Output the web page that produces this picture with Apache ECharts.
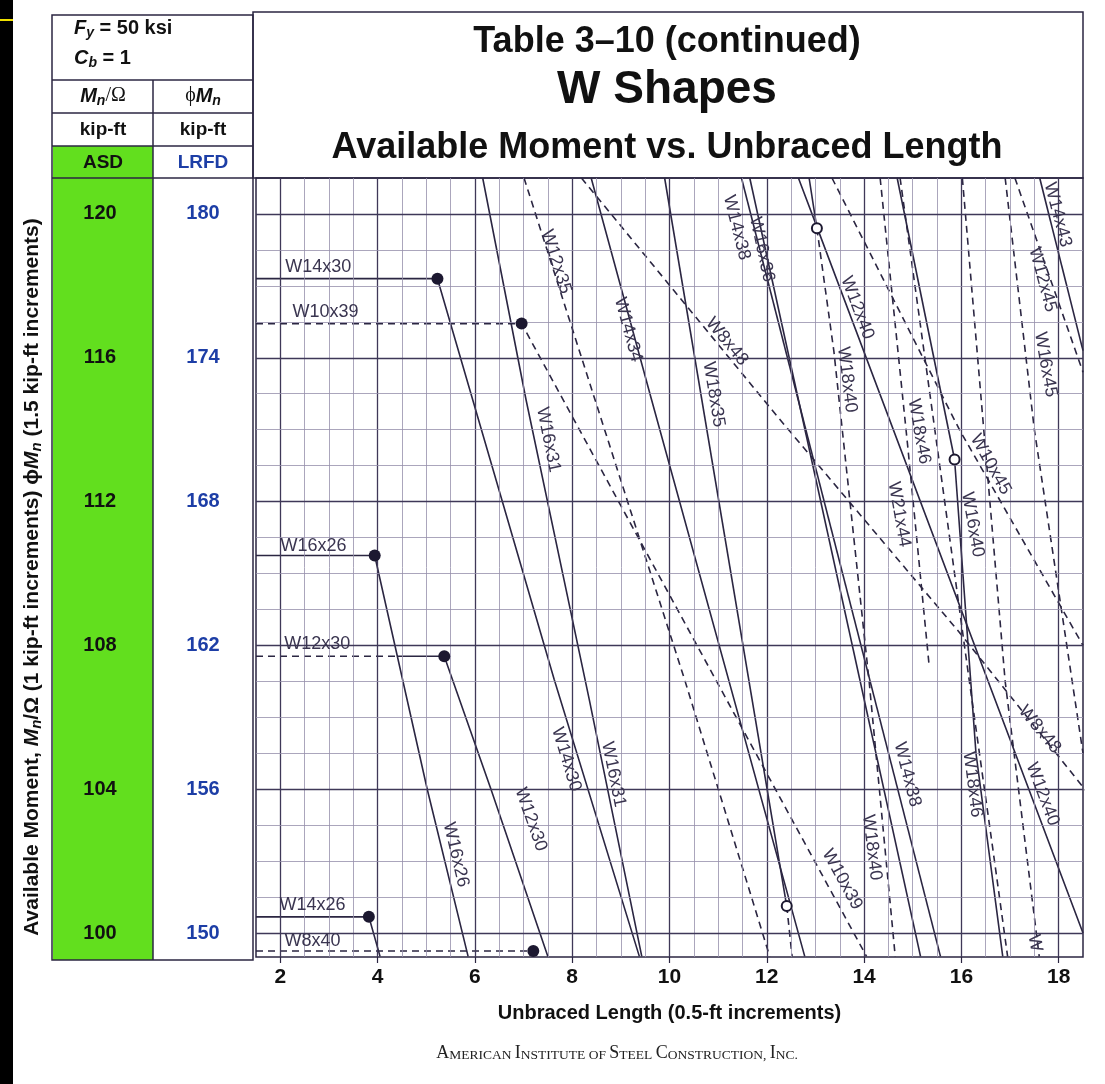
<!DOCTYPE html>
<html>
<head>
<meta charset="utf-8">
<script src="https://cdn.jsdelivr.net/npm/echarts@6/dist/echarts.min.js"></script>
<style>
html, body { margin: 0; padding: 0; background: #fff; }
#chart { width: 1105px; height: 1084px; }
</style>
</head>
<body>
<div id="chart"></div>
<script>
// axis ticks
const xTicks = [2, 4, 6, 8, 10, 12, 14, 16, 18];
const asdTicks = [100, 104, 108, 112, 116, 120];

// curves: [unbraced length (ft), Mn/Ω (kip-ft)]
const w14x30 = [[1.5, 118.2], [5.23, 118.2], [7.63, 107.05], [9.38, 99.35]];
const w10x39 = [[1.5, 116.95], [6.96, 116.95], [14.05, 99.35]];
const w16x26 = [[1.5, 110.5], [3.94, 110.5], [5.02, 104.0], [5.86, 99.35]];
const w12x30Left = [[1.5, 107.7], [4.41, 107.7]];
const w12x30 = [[4.41, 107.7], [5.37, 107.7], [6.33, 104.0], [7.5, 99.35]];
const w14x26 = [[1.5, 100.45], [3.82, 100.45], [4.05, 99.35]];
const w8x40 = [[1.5, 99.5], [7.2, 99.5]];
const w16x31 = [[6.16, 121], [7.05, 114.84], [8.35, 106.5], [9.43, 99.35]];
const w12x35 = [[7.01, 121], [10.31, 107.05], [12.06, 99.35]];
const w14x34 = [[8.39, 121], [9.63, 114.84], [12.78, 99.35]];
const w18x35 = [[9.9, 121], [12.41, 100.75]];
const w18x35Elastic = [[12.41, 100.75], [12.52, 99.35]];
const w8x48 = [[8.19, 121], [12.24, 114.33], [15.96, 108.36], [18.56, 103.96]];
const w14x38 = [[11.48, 121], [15.57, 99.35]];
const w16x36 = [[11.65, 121], [15.16, 99.35]];
const w12x40 = [[12.65, 121], [13.03, 119.64], [18.5, 100.0]];
const w18x40 = [[12.87, 121], [13.03, 119.6]];
const w18x40Elastic = [[13.03, 119.6], [13.38, 116.17], [14.1, 107.05], [14.64, 99.35]];
const w16x40 = [[14.68, 121], [15.86, 113.17]];
const w16x40Elastic = [[15.86, 113.17], [16.3, 105.0], [16.85, 99.35]];
const w14x43 = [[17.61, 121], [18.5, 116.2]];
const w12x45 = [[17.1, 121], [18.5, 115.6]];
const w16x45 = [[16.9, 121], [17.5, 114.0], [18.5, 105.0]];
const w10x45 = [[13.34, 121], [15.96, 114.0], [18.5, 108.0]];
const w18x46 = [[14.74, 121], [15.46, 113.94], [16.16, 107.04], [16.64, 102.4], [16.95, 99.35]];
const w21x44 = [[14.33, 121], [14.9, 113.5], [15.34, 107.4]];
const wRight = [[16.02, 121], [16.9, 107.0], [17.6, 99.35]];

// solid dots = Lp, open dots = Lr
const lpPoints = [[5.23, 118.2], [6.96, 116.95], [3.94, 110.5], [5.37, 107.7], [3.82, 100.45], [7.2, 99.5]];
const lrPoints = [[13.03, 119.6], [15.86, 113.17], [12.41, 100.75]];

// shape labels: text, x, y (data), angle in degrees (clockwise)
const shapeLabels = [
  ['W14x30', 2.78, 118.51, 0], ['W10x39', 2.93, 117.28, 0], ['W16x26', 2.68, 110.75, 0],
  ['W12x30', 2.76, 108.03, 0], ['W14x26', 2.66, 100.79, 0], ['W8x40', 2.66, 99.79, 0],
  ['W12x35', 7.67, 118.67, 72.5], ['W14x34', 9.15, 116.78, 74.7], ['W8x48', 11.18, 116.45, 50.6],
  ['W18x35', 10.91, 114.98, 80.6], ['W14x38', 11.38, 119.62, 75.7], ['W16x36', 11.9, 119.01, 77.8],
  ['W12x40', 13.86, 117.39, 69.3], ['W18x40', 13.65, 115.39, 83], ['W16x31', 7.51, 113.72, 78.5],
  ['W18x46', 15.13, 113.95, 80], ['W21x44', 14.72, 111.64, 80], ['W10x45', 16.6, 113.03, 61],
  ['W16x40', 16.23, 111.36, 80], ['W14x43', 17.98, 119.98, 75.4], ['W12x45', 17.67, 118.17, 75],
  ['W16x45', 17.73, 115.81, 80], ['W8x48', 17.61, 105.66, 50.6], ['W12x40', 17.67, 103.86, 69.3],
  ['W14x38', 14.89, 104.41, 75.7], ['W18x40', 14.16, 102.38, 83], ['W18x46', 16.23, 104.13, 83],
  ['W10x39', 13.55, 101.49, 61.5], ['W16x31', 8.85, 104.41, 78.5], ['W14x30', 7.88, 104.83, 73.3],
  ['W12x30', 7.15, 103.16, 70.7], ['W16x26', 5.61, 102.18, 76.8], ['W', 17.51, 99.72, 80]
];

const INK = '#2b2642';
const LABEL = '#3a3550';
const GREEN = '#62df1e';
const BLUE = '#1d3ea6';
const SANS = '"Liberation Sans", Arial, sans-serif';

const chart = echarts.init(document.getElementById('chart'));

function curve(data, dashed) {
  return {
    type: 'line', data: data, symbol: 'none', silent: true, animation: false, z: 4,
    lineStyle: { color: INK, width: 1.6, type: dashed ? [7, 5] : 'solid' }
  };
}

// grid lines
const gridMarks = [];
for (let v = 2; v <= 18; v += 0.5) {
  const major = v % 2 === 0;
  gridMarks.push({ xAxis: v, lineStyle: { color: major ? '#3f3858' : '#958fab', width: major ? 1.3 : 0.8, type: 'solid' } });
}
for (let v = 100; v <= 120; v++) {
  const major = v % 4 === 0;
  gridMarks.push({ yAxis: v, lineStyle: { color: major ? '#3f3858' : '#958fab', width: major ? 1.3 : 0.8, type: 'solid' } });
}

const option = {
  backgroundColor: '#fff',
  animation: false,
  grid: { left: 256, top: 178, right: 22, bottom: 127, show: true, borderColor: INK, borderWidth: 1.5, backgroundColor: 'transparent' },
  xAxis: {
    type: 'value', min: 1.5, max: 18.5,
    axisLine: { show: false },
    splitLine: { show: false },
    axisTick: { show: true, customValues: xTicks, length: 6, lineStyle: { color: INK, width: 1.2 } },
    axisLabel: { customValues: xTicks, margin: 10, color: '#111', fontSize: 21, fontWeight: 'bold', fontFamily: SANS },
    name: 'Unbraced Length (0.5-ft increments)', nameLocation: 'middle', nameGap: 46,
    nameTextStyle: { color: '#111', fontSize: 20, fontWeight: 'bold', fontFamily: SANS }
  },
  yAxis: {
    type: 'value', min: 99.333, max: 121,
    axisLine: { show: false }, splitLine: { show: false }, axisTick: { show: false },
    axisLabel: {
      customValues: asdTicks, margin: 3,
      formatter: v => '{a|' + v + '}{b|' + Math.round(v * 1.5) + '}',
      rich: {
        a: { width: 106, align: 'center', fontSize: 20, fontWeight: 'bold', color: '#111', fontFamily: SANS },
        b: { width: 100, align: 'center', fontSize: 20, fontWeight: 'bold', color: BLUE, fontFamily: SANS }
      }
    }
  },
  series: [
    { type: 'line', data: [], silent: true, markLine: { symbol: 'none', silent: true, animation: false, label: { show: false }, data: gridMarks }, z: 1 },
    curve(w14x30, false), curve(w10x39, true), curve(w16x26, false), curve(w12x30Left, true),
    curve(w12x30, false), curve(w14x26, false), curve(w8x40, true), curve(w16x31, false),
    curve(w12x35, true), curve(w14x34, false), curve(w18x35, false), curve(w18x35Elastic, true),
    curve(w8x48, true), curve(w14x38, false), curve(w16x36, false), curve(w12x40, false),
    curve(w18x40, false), curve(w18x40Elastic, true), curve(w16x40, false), curve(w16x40Elastic, false),
    curve(w14x43, false), curve(w12x45, true), curve(w16x45, true), curve(w10x45, true),
    curve(w18x46, true), curve(w21x44, true), curve(wRight, true),
    { type: 'scatter', data: lpPoints, symbolSize: 12, itemStyle: { color: '#1c1830', opacity: 1 }, z: 6, silent: true },
    { type: 'scatter', data: lrPoints, symbolSize: 10, itemStyle: { color: '#fff', borderColor: '#1c1830', borderWidth: 2, opacity: 1 }, z: 6, silent: true }
  ]
};
chart.setOption(option);

function smallCaps(str) {
  return str.split(' ').map(w => w === 'OF' ? '{s|OF}' : '{c|' + w[0] + '}{s|' + w.slice(1) + '}').join('{s| }');
}

const elements = [
  { type: 'rect', shape: { x: 0, y: 0, width: 13, height: 1084 }, style: { fill: '#000' } },
  { type: 'rect', shape: { x: 0, y: 19, width: 13, height: 2 }, style: { fill: '#f0e000' } },
  // table header
  { type: 'rect', shape: { x: 53, y: 146, width: 100, height: 814 }, style: { fill: GREEN } },
  { type: 'rect', shape: { x: 52, y: 15, width: 201, height: 945 }, style: { fill: 'none', stroke: INK, lineWidth: 1.5 } },
  { type: 'line', shape: { x1: 52, y1: 80, x2: 253, y2: 80 }, style: { stroke: INK, lineWidth: 1.5 } },
  { type: 'line', shape: { x1: 52, y1: 113, x2: 253, y2: 113 }, style: { stroke: INK, lineWidth: 1.5 } },
  { type: 'line', shape: { x1: 52, y1: 146, x2: 253, y2: 146 }, style: { stroke: INK, lineWidth: 1.5 } },
  { type: 'line', shape: { x1: 52, y1: 178, x2: 253, y2: 178 }, style: { stroke: INK, lineWidth: 1.5 } },
  { type: 'line', shape: { x1: 153, y1: 80, x2: 153, y2: 960 }, style: { stroke: INK, lineWidth: 1.5 } },
  { type: 'rect', shape: { x: 253, y: 12, width: 830, height: 166 }, style: { fill: 'none', stroke: INK, lineWidth: 1.5 } },
  {
    type: 'text', x: 74, y: 28, style: {
      text: '{i|F}{sub|y}{r| = 50 ksi}', textVerticalAlign: 'middle',
      rich: { i: { font: 'italic bold 20px ' + SANS, fill: '#111' }, sub: { font: 'italic bold 14px ' + SANS, fill: '#111', padding: [10, 0, 0, 0] }, r: { font: 'bold 20px ' + SANS, fill: '#111' } }
    }
  },
  {
    type: 'text', x: 74, y: 58, style: {
      text: '{i|C}{sub|b}{r| = 1}', textVerticalAlign: 'middle',
      rich: { i: { font: 'italic bold 20px ' + SANS, fill: '#111' }, sub: { font: 'italic bold 14px ' + SANS, fill: '#111', padding: [10, 0, 0, 0] }, r: { font: 'bold 20px ' + SANS, fill: '#111' } }
    }
  },
  {
    type: 'text', x: 103, y: 96, style: {
      text: '{i|M}{sub|n}{r|/Ω}', textAlign: 'center', textVerticalAlign: 'middle',
      rich: { i: { font: 'italic bold 20px ' + SANS, fill: '#111' }, sub: { font: 'italic bold 14px ' + SANS, fill: '#111', padding: [10, 0, 0, 0] }, r: { font: '20px "Liberation Serif", serif', fill: '#111' } }
    }
  },
  {
    type: 'text', x: 203, y: 96, style: {
      text: '{r|ϕ}{i|M}{sub|n}', textAlign: 'center', textVerticalAlign: 'middle',
      rich: { i: { font: 'italic bold 20px ' + SANS, fill: '#111' }, sub: { font: 'italic bold 14px ' + SANS, fill: '#111', padding: [10, 0, 0, 0] }, r: { font: '20px "Liberation Serif", serif', fill: '#111' } }
    }
  },
  { type: 'text', x: 103, y: 130, style: { text: 'kip-ft', font: 'bold 19px ' + SANS, fill: '#111', textAlign: 'center', textVerticalAlign: 'middle' } },
  { type: 'text', x: 203, y: 130, style: { text: 'kip-ft', font: 'bold 19px ' + SANS, fill: '#111', textAlign: 'center', textVerticalAlign: 'middle' } },
  { type: 'text', x: 103, y: 163, style: { text: 'ASD', font: 'bold 19px ' + SANS, fill: '#111', textAlign: 'center', textVerticalAlign: 'middle' } },
  { type: 'text', x: 203, y: 163, style: { text: 'LRFD', font: 'bold 19px ' + SANS, fill: BLUE, textAlign: 'center', textVerticalAlign: 'middle' } },
  // titles
  { type: 'text', x: 667, y: 42, style: { text: 'Table 3–10 (continued)', font: 'bold 36px ' + SANS, fill: '#111', textAlign: 'center', textVerticalAlign: 'middle' } },
  { type: 'text', x: 667, y: 90, style: { text: 'W Shapes', font: 'bold 46px ' + SANS, fill: '#111', textAlign: 'center', textVerticalAlign: 'middle' } },
  { type: 'text', x: 667, y: 148, style: { text: 'Available Moment vs. Unbraced Length', font: 'bold 36px ' + SANS, fill: '#111', textAlign: 'center', textVerticalAlign: 'middle' } },
  // vertical axis title
  {
    type: 'text', x: 32, y: 577, rotation: Math.PI / 2, style: {
      text: '{b|Available Moment, }{i|M}{sub|n}{b|/Ω (1 kip-ft increments) ϕ}{i|M}{sub|n}{b| (1.5 kip-ft increments)}',
      textAlign: 'center', textVerticalAlign: 'middle',
      rich: {
        b: { font: 'bold 21px ' + SANS, fill: '#111' },
        i: { font: 'italic bold 21px ' + SANS, fill: '#111' },
        sub: { font: 'italic bold 15px ' + SANS, fill: '#111', padding: [10, 0, 0, 0] }
      }
    }
  },
  // footer
  {
    type: 'text', x: 617, y: 1062, style: {
      text: smallCaps('AMERICAN INSTITUTE OF STEEL CONSTRUCTION, INC.'), textAlign: 'center', textVerticalAlign: 'bottom',
      rich: { c: { font: '18px "Liberation Serif", serif', fill: '#222', verticalAlign: 'bottom' }, s: { font: '13.5px "Liberation Serif", serif', fill: '#222', verticalAlign: 'bottom' } }
    }
  }
];

shapeLabels.forEach(function (l) {
  const p = chart.convertToPixel({ xAxisIndex: 0, yAxisIndex: 0 }, [l[1], l[2]]);
  elements.push({
    type: 'text', x: p[0], y: p[1], rotation: -l[3] * Math.PI / 180, z: 10,
    style: { text: l[0], font: '18px ' + SANS, fill: LABEL, textAlign: 'center', textVerticalAlign: 'middle' }
  });
});

chart.setOption({ graphic: { elements: elements } });
</script>
</body>
</html>
